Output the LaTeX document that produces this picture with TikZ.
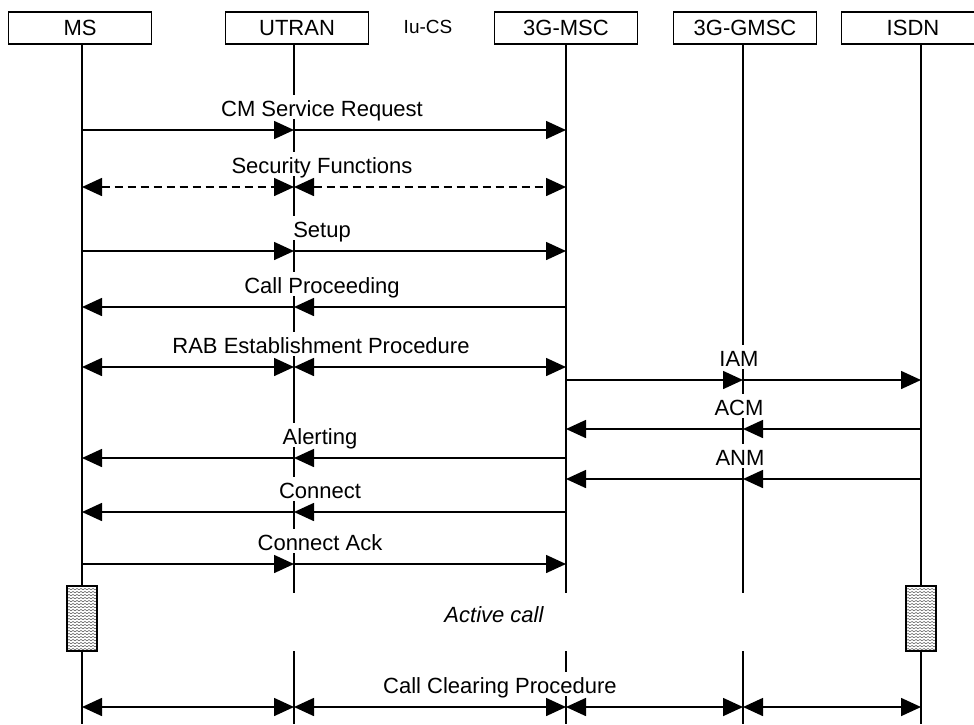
\documentclass[tikz,border=0pt]{standalone}
\usepackage{fontspec}
\setmainfont{Liberation Sans}
\usetikzlibrary{arrows.meta}
\begin{document}
\begin{tikzpicture}[x=1pt,y=-1pt,
  every node/.style={font=\fontsize{22}{26}\selectfont},
  entity/.style={draw,line width=1.4pt,minimum width=143pt,minimum height=32pt,inner sep=0pt},
  life/.style={line width=1.6pt},
  tip/.style={},
  msg/.style={line width=1.6pt,-{Triangle[length=20pt,width=18pt]}},
  bimsg/.style={line width=1.6pt,{Triangle[length=20pt,width=18pt]}-{Triangle[length=20pt,width=18pt]}},
  lbl/.style={fill=white,anchor=base,inner xsep=2pt,inner ysep=1pt,text height=20pt,text depth=2pt},
  activebar/.pic={
    \fill[white] (-15,-32.5) rectangle (15,32.5);
    \begin{scope}
      \clip (-15,-32.5) rectangle (15,32.5);
      \foreach \r in {0,...,22}
        \draw[black!65,line width=0.55pt] (-17,{-33+3*\r})
          \foreach \k in {1,...,9} { -- ++(2,1.2) -- ++(2,-1.2) };
    \end{scope}
    \draw[line width=1.5pt] (-15,-32.5) rectangle (15,32.5);
  },
]
\useasboundingbox (0,0) rectangle (974,724);

% entities
\node[entity] (ms)    at (80,28)  {MS};
\node[entity] (utran) at (297,28) {UTRAN};
\node[entity] (msc)   at (566,28) {3G-MSC};
\node[entity] (gmsc)  at (745,28) {3G-GMSC};
\node[entity] (isdn)  at (913,28) {ISDN};
\node[font=\fontsize{19}{22}\selectfont] (iucs) at (428,27) {Iu-CS};

% lifeline tops
\coordinate (ms-l)    at (82,44);
\coordinate (utran-l) at (294,44);
\coordinate (msc-l)   at (566,44);
\coordinate (gmsc-l)  at (743,44);
\coordinate (isdn-l)  at (921,44);

% vertical reference levels
\coordinate (gapa) at (0,593);
\coordinate (gapb) at (0,651);
\coordinate (act)  at (0,618.5);
\coordinate (bot)  at (0,724);

% message rows
\foreach \n/\y in {1/130,2/187,3/251,4/307,5/367,6/380,7/429,8/458,9/479,10/512,11/564,12/707}
  \coordinate (r\n) at (0,\y);

% lifelines
\draw[life] (ms-l) -- (ms-l |- bot);
\draw[life] (isdn-l) -- (isdn-l |- bot);
\foreach \e in {utran,msc,gmsc} {
  \draw[life] (\e-l) -- (\e-l |- gapa);
  \draw[life] (\e-l |- gapb) -- (\e-l |- bot);
}

% CM Service Request
\draw[msg] (ms-l |- r1) -- (utran-l |- r1);
\draw[msg] (utran-l |- r1) -- (msc-l |- r1);
% Security Functions
\draw[bimsg,dash pattern=on 8pt off 5pt] (ms-l |- r2) -- (utran-l |- r2);
\draw[bimsg,dash pattern=on 8pt off 5pt] (utran-l |- r2) -- (msc-l |- r2);
% Setup
\draw[msg] (ms-l |- r3) -- (utran-l |- r3);
\draw[msg] (utran-l |- r3) -- (msc-l |- r3);
% Call Proceeding
\draw[msg] (msc-l |- r4) -- (utran-l |- r4);
\draw[msg] (utran-l |- r4) -- (ms-l |- r4);
% RAB Establishment Procedure
\draw[bimsg] (ms-l |- r5) -- (utran-l |- r5);
\draw[bimsg] (utran-l |- r5) -- (msc-l |- r5);
% IAM
\draw[msg] (msc-l |- r6) -- (gmsc-l |- r6);
\draw[msg] (gmsc-l |- r6) -- (isdn-l |- r6);
% ACM
\draw[msg] (isdn-l |- r7) -- (gmsc-l |- r7);
\draw[msg] (gmsc-l |- r7) -- (msc-l |- r7);
% Alerting
\draw[msg] (msc-l |- r8) -- (utran-l |- r8);
\draw[msg] (utran-l |- r8) -- (ms-l |- r8);
% ANM
\draw[msg] (isdn-l |- r9) -- (gmsc-l |- r9);
\draw[msg] (gmsc-l |- r9) -- (msc-l |- r9);
% Connect
\draw[msg] (msc-l |- r10) -- (utran-l |- r10);
\draw[msg] (utran-l |- r10) -- (ms-l |- r10);
% Connect Ack
\draw[msg] (ms-l |- r11) -- (utran-l |- r11);
\draw[msg] (utran-l |- r11) -- (msc-l |- r11);
% Call Clearing Procedure
\draw[bimsg] (ms-l |- r12) -- (utran-l |- r12);
\draw[bimsg] (utran-l |- r12) -- (msc-l |- r12);
\draw[bimsg] (msc-l |- r12) -- (gmsc-l |- r12);
\draw[bimsg] (gmsc-l |- r12) -- (isdn-l |- r12);

% message labels
\node[lbl] (t1)  at (322,116) {CM Service Request};
\node[lbl] (t2)  at (322,173) {Security Functions};
\node[lbl] (t3)  at (322,237) {Setup};
\node[lbl] (t4)  at (322,293) {Call Proceeding};
\node[lbl] (t5)  at (321,353) {RAB Establishment Procedure};
\node[lbl] (t6)  at (739,366) {IAM};
\node[lbl] (t7)  at (739,415) {ACM};
\node[lbl] (t8)  at (320,444) {Alerting};
\node[lbl] (t9)  at (740,465) {ANM};
\node[lbl] (t10) at (320,498) {Connect};
\node[lbl] (t11) at (320,550) {Connect Ack};
\node[lbl] (t12) at (500,693) {Call Clearing Procedure};

% active call phase
\node[font=\fontsize{22}{26}\selectfont\itshape] (active) at (494,615) {Active call};
\pic (msbar)   at (ms-l |- act)   {activebar};
\pic (isdnbar) at (isdn-l |- act) {activebar};
\end{tikzpicture}
\end{document}
